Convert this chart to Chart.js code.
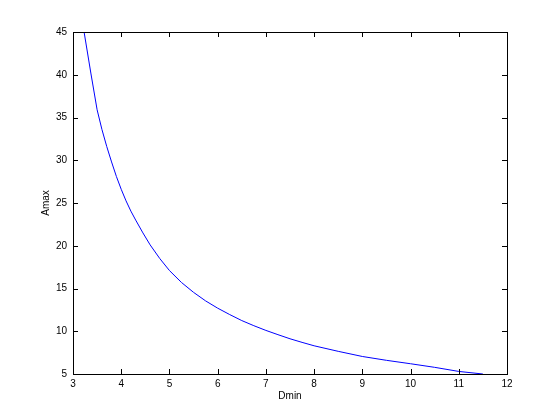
<!DOCTYPE html>
<html>
<head>
<meta charset="utf-8">
<script src="https://cdn.jsdelivr.net/npm/chart.js@4/dist/chart.umd.min.js"></script>
<style>
  html, body { margin: 0; padding: 0; background: #fff; }
  #wrap { width: 560px; height: 420px; }
</style>
</head>
<body>
<div id="wrap"><canvas id="plot" width="560" height="420"></canvas></div>
<script>
// Data
const dmin = [3.23, 3.37, 3.5, 3.6, 3.7, 3.8, 3.9, 4.0, 4.1, 4.2, 4.3, 4.45, 4.6, 4.8, 5.0, 5.25, 5.5, 5.75, 6.0, 6.25, 6.5, 6.75, 7.0, 7.25, 7.5, 7.75, 8.0, 8.5, 9.0, 9.5, 10.0, 10.5, 11.0, 11.5];
const amax = [45.0, 40.2, 35.9, 33.6, 31.6, 29.8, 28.1, 26.6, 25.25, 24.05, 23.0, 21.5, 20.1, 18.5, 17.1, 15.7, 14.55, 13.55, 12.7, 11.95, 11.25, 10.65, 10.1, 9.6, 9.12, 8.7, 8.3, 7.65, 7.05, 6.6, 6.2, 5.78, 5.3, 5.0];
const xTicks = [3, 4, 5, 6, 7, 8, 9, 10, 11, 12];
const yTicks = [5, 10, 15, 20, 25, 30, 35, 40, 45];

const points = dmin.map((d, i) => ({ x: d, y: amax[i] }));
const font = { family: "'Liberation Sans', Arial, sans-serif", size: 10 };

// box + inward tick marks, matlab style
const boxTicks = {
  id: "boxTicks",
  afterDraw(chart) {
    const { ctx, chartArea: a, scales } = chart;
    const len = 5;
    ctx.save();
    ctx.strokeStyle = "#000";
    ctx.lineWidth = 1;
    ctx.strokeRect(a.left + 0.5, a.top + 0.5, a.right - a.left, a.bottom - a.top);
    ctx.beginPath();
    xTicks.forEach(v => {
      const px = Math.round(scales.x.getPixelForValue(v)) + 0.5;
      ctx.moveTo(px, a.bottom); ctx.lineTo(px, a.bottom - len);
      ctx.moveTo(px, a.top); ctx.lineTo(px, a.top + len);
    });
    yTicks.forEach(v => {
      const py = Math.round(scales.y.getPixelForValue(v)) + 0.5;
      ctx.moveTo(a.left, py); ctx.lineTo(a.left + len, py);
      ctx.moveTo(a.right, py); ctx.lineTo(a.right - len, py);
    });
    ctx.stroke();
    ctx.restore();
  }
};

new Chart(document.getElementById("plot"), {
  type: "line",
  data: {
    datasets: [{
      data: points,
      borderColor: "#0000ff",
      borderWidth: 1,
      pointRadius: 0,
      tension: 0,
      fill: false
    }]
  },
  options: {
    responsive: false,
    animation: false,
    events: [],
    layout: { padding: { left: 0, top: 32, right: 53, bottom: 0 } },
    plugins: { legend: { display: false }, tooltip: { enabled: false } },
    scales: {
      x: {
        type: "linear",
        min: 3, max: 12,
        afterBuildTicks: s => { s.ticks = xTicks.map(v => ({ value: v })); },
        afterFit: s => { s.height = 46; },
        grid: { display: false, drawTicks: false },
        border: { display: false },
        ticks: { color: "#000", font: font, padding: 4 },
        title: { display: true, text: "Dmin", color: "#000", font: font, padding: { top: 0, bottom: 18 } }
      },
      y: {
        type: "linear",
        min: 5, max: 45,
        afterBuildTicks: s => { s.ticks = yTicks.map(v => ({ value: v })); },
        afterFit: s => { s.width = 73; },
        grid: { display: false, drawTicks: false },
        border: { display: false },
        ticks: { color: "#000", font: font, padding: 6 },
        title: { display: true, text: "Amax", color: "#000", font: font, padding: { top: 40, bottom: 0 } }
      }
    }
  },
  plugins: [boxTicks]
});
</script>
</body>
</html>
